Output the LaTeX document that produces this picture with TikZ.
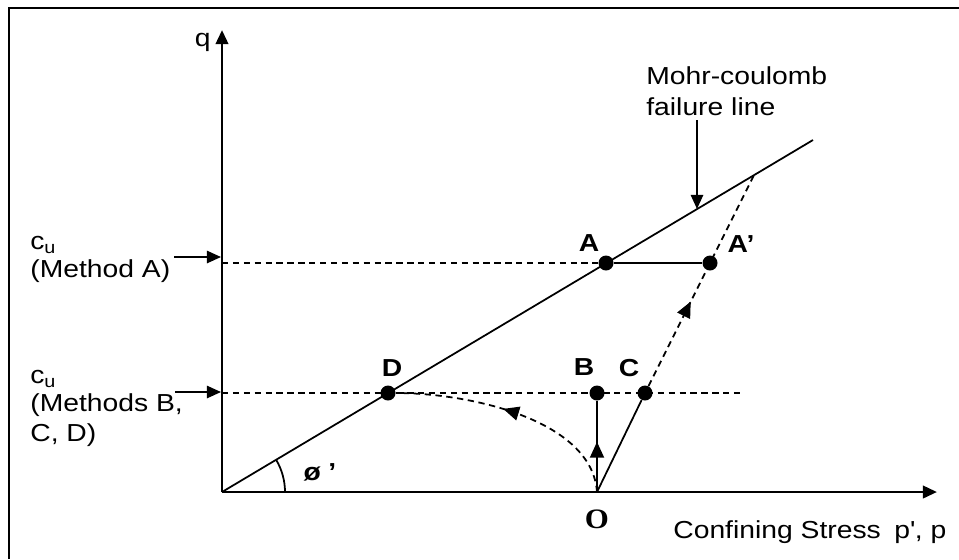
\documentclass[tikz,border=0pt]{standalone}
\usepackage{fontspec}
\setmainfont{Liberation Sans}[FakeStretch=1.15]
\newfontfamily\serifbold{Liberation Serif}[FakeStretch=1.1]
\usetikzlibrary{arrows.meta, decorations.markings}

\begin{document}
\begin{tikzpicture}[
    x=0.02cm, y=-0.02cm,
    every node/.style={font=\fontsize{14}{17}\selectfont, inner sep=0pt},
    >={Triangle[length=8pt, width=7pt]},
    axis/.style={->, line width=1.6pt},
    thinline/.style={line width=1pt},
    dashline/.style={line width=1pt, dash pattern=on 3.6pt off 2.6pt},
    dot/.style={circle, fill, minimum size=0.3cm, inner sep=0pt},
    ptlabel/.style={font=\fontsize{14}{17}\selectfont\bfseries},
    midarrow/.style={postaction={decorate},
        decoration={markings, mark=at position #1 with
            {\arrow{Triangle[length=9pt, width=8pt]}}}},
]
\useasboundingbox (0,0) rectangle (959,559);

% === Frame (top and left edges only) ===
\draw[line width=1.2pt] (9,559) -- (9,8) -- (959,8);

% === Axes ===
\coordinate (orig)  at (222,492);
\coordinate (qtop)  at (222,30);
\coordinate (pend)  at (937,492);
\draw[axis] (orig) -- (qtop);
\draw[axis] (orig) -- (pend);
\node[anchor=east] (qlab) at (211,42) {q};
\node[anchor=base west] (plab) at (673,538)
    {Confining Stress\hspace{0.55em}p\textquotesingle, p};

% === Mohr-coulomb failure line ===
\coordinate (fend) at (813,140);
\draw[thinline] (orig) -- (fend);
% angle phi'
\draw[thinline] (285,492) arc[start angle=0, end angle=-30.8, radius=63];
\node[ptlabel] (philab) at (320,472) {ø\hspace{0.3em}’};

% label + pointer
\node[anchor=north west, align=left] (mclab) at (646,66)
    {Mohr-coulomb\\[1pt]failure line};
\coordinate (mctip) at (697,209);
\draw[thinline, ->] (697,120) -- (mctip);

% === Stress points ===
\coordinate (O) at (597,492);
\node[dot] (A)  at (606,263) {};
\node[dot] (Ap) at (710,263) {};
\node[dot] (B)  at (597,393) {};
\node[dot] (C)  at (645,393) {};
\node[dot] (D)  at (388,393) {};

\node[ptlabel] (Alab)  at (589,243) {A};
\node[ptlabel] (Aplab) at (741,244) {A’};
\node[ptlabel] (Blab)  at (584,367) {B};
\node[ptlabel] (Clab)  at (629,368) {C};
\node[ptlabel] (Dlab)  at (392,368) {D};
\node[font=\fontsize{16}{17}\serifbold\bfseries] (Olab) at (597,519) {O};

% === c_u levels ===
\coordinate (cuA) at (222,263);
\coordinate (cuB) at (222,393);
\coordinate (cuBend) at (743,393);
\draw[dashline] (cuA) -- (A);
\draw[dashline] (cuB) -- (cuBend);
\draw[thinline] (A) -- (Ap);

\node[anchor=north west, align=left] (cuAlab) at (30,236)
    {c\textsubscript{u}\\[-1pt](Method A)};
\node[anchor=north west, align=left] (cuBlab) at (30,370)
    {c\textsubscript{u}\\[-1pt](Methods B,\\C, D)};
\draw[thinline, ->] (174,257) -- (221,257);
\draw[thinline, ->] (175,392) -- (221,392);

% === Stress paths ===
\coordinate (Aptop) at (754,175);
\draw[thinline, midarrow=0.55] (O) -- (B);
\draw[thinline] (O) -- (C);
\draw[dashline, midarrow=0.4] (C) -- (Aptop);
\draw[dashline, midarrow=0.55] (O) .. controls (592,420) and (470,393) .. (D);

\end{tikzpicture}
\end{document}
